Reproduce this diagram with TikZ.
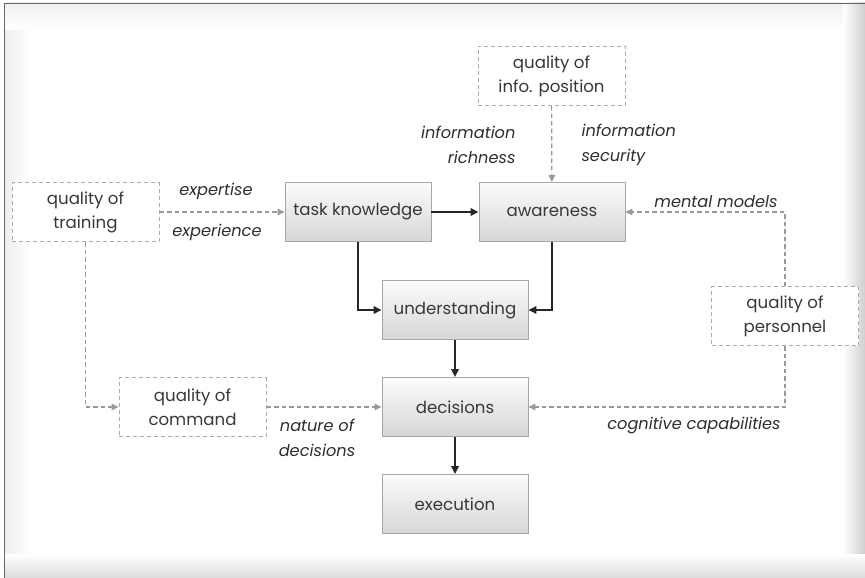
\documentclass[tikz,border=0pt]{standalone}
\usepackage{fontspec}
\setmainfont{Poppins}
\usetikzlibrary{arrows.meta,shadings}
\begin{document}
\begin{tikzpicture}[x=1pt,y=-1pt,
  boxfont/.style={font=\fontsize{16.6}{24}\selectfont, text=black!78},
  solidbox/.style={boxfont, draw=gray!70, line width=0.9pt, top color=gray!3, bottom color=gray!32, minimum width=146pt, minimum height=59pt, align=center, inner sep=2pt},
  dashbox/.style={boxfont, draw=gray!65, line width=1pt, dash pattern=on 4pt off 3pt, fill=white, minimum width=147pt, minimum height=59pt, align=center, inner sep=2pt},
  strong/.style={draw=black!85, line width=1.6pt, -{Triangle[length=8pt,width=7.5pt]}},
  weak/.style={draw=gray!80, line width=1.2pt, dash pattern=on 4.5pt off 3pt, -{Triangle[length=7pt,width=6.5pt]}},
  lbl/.style={font=\itshape\fontsize{16.2}{25}\selectfont, text=black!82}]
\useasboundingbox (0,0) rectangle (865,578);
\fill[white] (0,0) rectangle (865,578);
% frame shading
\shade[left color=gray!12, right color=white] (5,3) rectangle (32,578);
\shade[top color=gray!12, bottom color=white] (5,3) rectangle (865,30);
\shade[left color=white, right color=gray!38] (843,3) rectangle (865,578);
\shade[top color=white, bottom color=gray!28] (5,554) rectangle (865,578);
\draw[black!60, line width=1.6pt] (4.5,578) -- (4.5,3.5) -- (865,3.5);

% nodes
\node[dashbox] (info) at (551.5,76) {quality of\\info. position};
\node[solidbox] (task) at (358,212) {task knowledge};
\node[solidbox] (aware) at (552,212) {awareness};
\node[dashbox] (train) at (85.5,212) {quality of\\training};
\node[solidbox] (under) at (455,310) {understanding};
\node[dashbox] (pers) at (785,316) {quality of\\personnel};
\node[dashbox] (cmd) at (192.5,407) {quality of\\command};
\node[solidbox] (dec) at (455,407) {decisions};
\node[solidbox] (exec) at (455,504) {execution};

% labels
\node[lbl] (lexp) at (216,191) {expertise};
\node[lbl] (lexpr) at (217,232) {experience};
\node[lbl, align=right, anchor=east] (lrich) at (519,145) {information\\richness};
\node[lbl, align=left, anchor=west] (lsec) at (578,145) {information\\security};
\node[lbl] (lmm) at (716,202) {mental models};
\node[lbl, align=center] (lnat) at (317,438) {nature of\\decisions};
\node[lbl] (lcog) at (694,426) {cognitive capabilities};

% connectors
\draw[weak] (train) -- (task);
\draw[strong] (task) -- (aware);
\draw[weak] (info) -- (aware);
\draw[weak] (pers.north) |- (aware.east);
\draw[strong] (task.south) |- (under.west);
\draw[strong] (aware.south) |- (under.east);
\draw[strong] (under) -- (dec);
\draw[strong] (dec) -- (exec);
\draw[weak] (train.south) |- (cmd.west);
\draw[weak] (cmd) -- (dec);
\draw[weak] (pers.south) |- (dec.east);
\end{tikzpicture}
\end{document}
